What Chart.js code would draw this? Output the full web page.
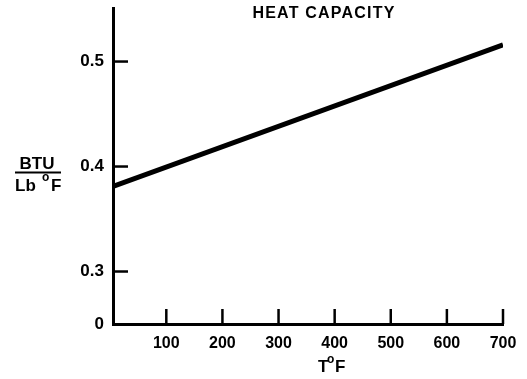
<!DOCTYPE html>
<html><head><meta charset="utf-8">
<script src="https://cdn.jsdelivr.net/npm/chart.js@4"></script>
<style>html,body{margin:0;padding:0;background:#fff}#wrap{width:527px;height:379px}</style>
</head><body><div id="wrap"><canvas id="c" width="527" height="379"></canvas></div>
<script>
const temperatureF = [5, 700];
const heatCapacity = [0.381, 0.516];
const xTicks = [100, 200, 300, 400, 500, 600, 700];
const yTicks = [0.25, 0.3, 0.4, 0.5];
const yTickLabels = ['0', '0.3', '0.4', '0.5'];
const titleText = 'HEAT CAPACITY';

const FONT = '"Liberation Sans", Arial, sans-serif';

const decor = {
  id: 'decor',
  afterDraw(chart) {
    const ctx = chart.ctx, xs = chart.scales.x, ys = chart.scales.y;
    const left = chart.chartArea.left, bottom = chart.chartArea.bottom;
    ctx.save();
    ctx.strokeStyle = '#000'; ctx.lineWidth = 2.5;
    yTicks.slice(1).forEach(v => {
      const p = ys.getPixelForValue(v);
      ctx.beginPath(); ctx.moveTo(left, p); ctx.lineTo(left + 15, p); ctx.stroke();
    });
    xTicks.forEach(v => {
      const p = xs.getPixelForValue(v);
      ctx.beginPath(); ctx.moveTo(p, bottom); ctx.lineTo(p, bottom - 15); ctx.stroke();
    });
    ctx.fillStyle = '#000';
    ctx.font = 'bold 16px ' + FONT;
    ctx.textAlign = 'center'; ctx.textBaseline = 'middle';
    ctx.letterSpacing = '1.2px';
    ctx.fillText(titleText, 324, 14);
    ctx.letterSpacing = '0px';
    ctx.font = 'bold 17px ' + FONT;
    ctx.textAlign = 'left'; ctx.textBaseline = 'alphabetic';
    ctx.fillText('T', 318, 372);
    ctx.font = 'bold 12px ' + FONT;
    ctx.fillText('o', 327, 363);
    ctx.font = 'bold 17px ' + FONT;
    ctx.fillText('F', 335, 372);
    ctx.textAlign = 'center';
    ctx.fillText('BTU', 37, 169);
    ctx.lineWidth = 2;
    ctx.beginPath(); ctx.moveTo(15, 172.5); ctx.lineTo(61, 172.5); ctx.stroke();
    ctx.textAlign = 'left';
    ctx.fillText('Lb', 15, 191);
    ctx.font = 'bold 12px ' + FONT;
    ctx.fillText('o', 42, 181);
    ctx.font = 'bold 17px ' + FONT;
    ctx.fillText('F', 51, 191);
    ctx.restore();
  }
};

new Chart(document.getElementById('c'), {
  type: 'scatter',
  data: {
    datasets: [{
      data: temperatureF.map((t, i) => ({ x: t, y: heatCapacity[i] })),
      showLine: true,
      borderColor: '#000',
      borderWidth: 5,
      pointRadius: 0,
      fill: false
    }]
  },
  options: {
    responsive: false,
    animation: false,
    layout: { padding: { top: 8, right: 24, left: 0, bottom: 0 } },
    plugins: { legend: { display: false }, tooltip: { enabled: false } },
    scales: {
      x: {
        type: 'linear', min: 5, max: 700,
        afterFit: s => { s.height = 55; s.paddingLeft = 0; s.paddingRight = 0; },
        afterBuildTicks: s => { s.ticks = xTicks.map(v => ({ value: v })); },
        grid: { display: false, drawTicks: false },
        border: { display: true, color: '#000', width: 3 },
        ticks: { color: '#000', padding: 10, maxRotation: 0, autoSkip: false,
          font: { family: FONT, size: 16, weight: 'bold' } }
      },
      y: {
        type: 'linear', min: 0.25, max: 0.551,
        afterFit: s => { s.width = 113; s.paddingTop = 0; s.paddingBottom = 0; },
        afterBuildTicks: s => { s.ticks = yTicks.map(v => ({ value: v })); },
        grid: { display: false, drawTicks: false },
        border: { display: true, color: '#000', width: 3 },
        ticks: { color: '#000', padding: 9, autoSkip: false,
          callback: (v) => { const i = yTicks.indexOf(v); return i >= 0 ? yTickLabels[i] : ''; },
          font: { family: FONT, size: 17, weight: 'bold' } }
      }
    }
  },
  plugins: [decor]
});
</script>
</body></html>
